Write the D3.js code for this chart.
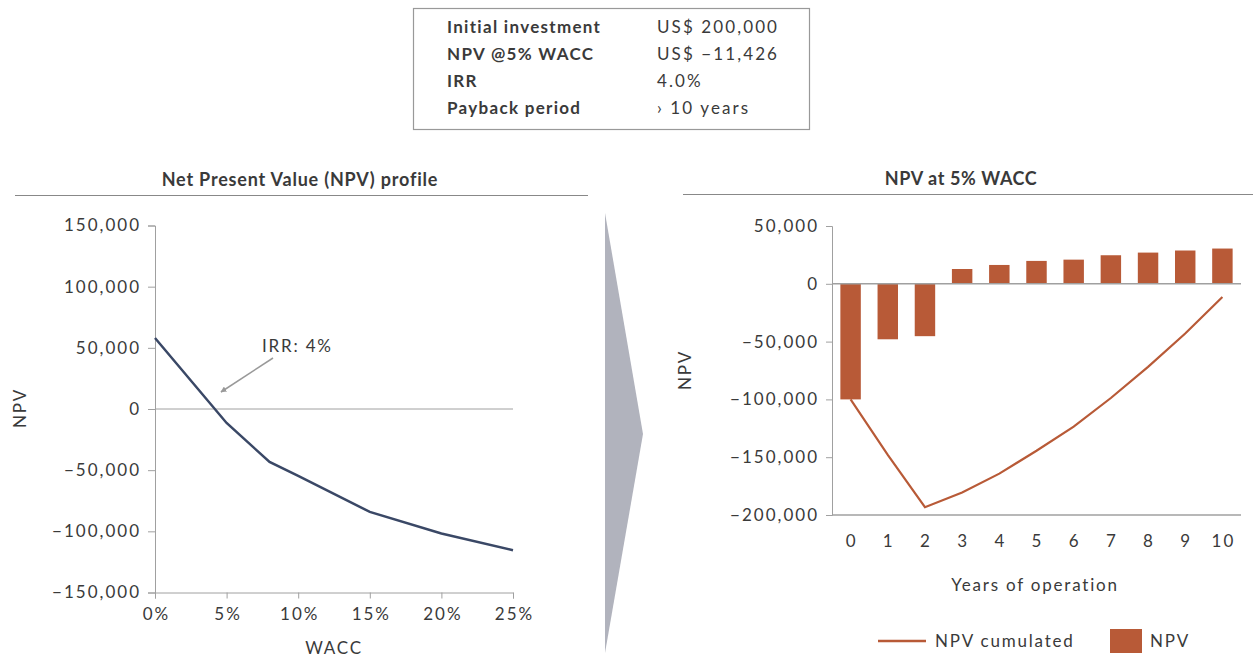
<!DOCTYPE html>
<html>
<head>
<meta charset="utf-8">
<script src="https://cdn.jsdelivr.net/npm/d3@7"></script>
<style>
  body { margin: 0; background: #fff; }
  svg text { font-family: Lato, "Noto Sans", sans-serif; fill: #3a3a3a; }
</style>
</head>
<body>
<script>
// summary box
var summaryLabels = ["Initial investment", "NPV @5% WACC", "IRR", "Payback period"];
var summaryValues = ["US$ 200,000", "US$ \u221211,426", "4.0%", "\u203a 10 years"];

// NPV profile
var waccRates = [0, 5, 8, 10, 15, 20, 25];
var npvProfile = [58000, -11426, -43300, -54700, -84100, -101800, -115400];
var profileTicks = [150000, 100000, 50000, 0, -50000, -100000, -150000];
var waccTicks = [0, 5, 10, 15, 20, 25];

// NPV at 5% WACC
var years = [0, 1, 2, 3, 4, 5, 6, 7, 8, 9, 10];
var npvYear = [-100000, -48000, -45300, 12800, 16300, 19800, 20900, 24700, 27000, 28800, 30500];
var npvCumulated = [-100000, -148000, -193300, -180500, -164200, -144400, -123500, -98800, -71800, -43000, -11426];
var yearTicks = [50000, 0, -50000, -100000, -150000, -200000];

var W = 1253, H = 657;
var orange = "#b85a37", navy = "#3a4866", grey = "#a0a0a0";
var fmt = function (d) { return d3.format(",")(d).replace("-", "\u2212"); };

var svg = d3.select("body").append("svg").attr("width", W).attr("height", H);

// small helper for the plain 17px labels
function label(x, y, s, anchor) {
  return svg.append("text").attr("x", x).attr("y", y).attr("text-anchor", anchor || "start")
    .attr("font-size", 17).attr("letter-spacing", 1.8).attr("fill", "#444").text(s);
}

// summary table
svg.append("rect").attr("x", 413.5).attr("y", 8.5).attr("width", 396).attr("height", 121)
  .attr("fill", "none").attr("stroke", "#999").attr("stroke-width", 1.2);
summaryLabels.forEach(function (s, i) {
  svg.append("text").attr("x", 447).attr("y", 33 + i * 27).attr("font-size", 17)
    .attr("font-weight", "bold").attr("letter-spacing", 1.3).text(s);
  svg.append("text").attr("x", 657).attr("y", 33 + i * 27).attr("font-size", 17)
    .attr("letter-spacing", 2.1).attr("fill", "#444").text(summaryValues[i]);
});

// titles
svg.append("text").attr("x", 300).attr("y", 185.5).attr("text-anchor", "middle")
  .attr("font-size", 18).attr("font-weight", "bold").attr("letter-spacing", 0.8).text("Net Present Value (NPV) profile");
svg.append("line").attr("x1", 15).attr("x2", 588).attr("y1", 195.5).attr("y2", 195.5).attr("stroke", "#888");
svg.append("text").attr("x", 961).attr("y", 184.5).attr("text-anchor", "middle")
  .attr("font-size", 18).attr("font-weight", "bold").attr("letter-spacing", 0.6).text("NPV at 5% WACC");
svg.append("line").attr("x1", 683).attr("x2", 1253).attr("y1", 194.5).attr("y2", 194.5).attr("stroke", "#888");

// chevron
svg.append("polygon").attr("points", "605,213 643,434 605,653").attr("fill", "#b1b3bd");

// ---------- left chart
var x1 = d3.scaleLinear().domain([0, 25]).range([155, 513]);
var y1 = d3.scaleLinear().domain([-150000, 150000]).range([592.5, 225.5]);

var ax1 = svg.append("g").attr("transform", "translate(155,0)")
  .call(d3.axisLeft(y1).tickValues(profileTicks).tickFormat(fmt).tickSize(7).tickPadding(7));
var bx1 = svg.append("g").attr("transform", "translate(0,592.5)")
  .call(d3.axisBottom(x1).tickValues(waccTicks).tickFormat(function (d) { return d + "%"; }).tickSize(6).tickPadding(9));
[ax1, bx1].forEach(function (a) {
  a.select(".domain").attr("stroke", grey);
  a.selectAll(".tick line").attr("stroke", grey);
  a.selectAll(".tick text").attr("font-size", 17).attr("fill", "#444").attr("letter-spacing", 2)
    .style("font-family", "Lato, sans-serif");
});
bx1.selectAll(".tick text").attr("dx", 1);
svg.append("line").attr("x1", 155).attr("x2", 513).attr("y1", y1(0)).attr("y2", y1(0)).attr("stroke", grey);

svg.append("path").datum(waccRates)
  .attr("fill", "none").attr("stroke", navy).attr("stroke-width", 2.5)
  .attr("d", d3.line().x(function (d) { return x1(d); }).y(function (d, i) { return y1(npvProfile[i]); }));

label(334, 654, "WACC", "middle");
svg.append("text").attr("transform", "translate(26,408) rotate(-90)").attr("text-anchor", "middle")
  .attr("font-size", 17).attr("letter-spacing", 1.8).attr("fill", "#444").text("NPV");

// IRR annotation
svg.append("defs").append("marker").attr("id", "ah").attr("viewBox", "0 0 10 10")
  .attr("refX", 9).attr("refY", 5).attr("markerWidth", 4).attr("markerHeight", 4).attr("orient", "auto")
  .append("path").attr("d", "M0,0 L10,5 L0,10 z").attr("fill", "#999");
svg.append("line").attr("x1", 273).attr("y1", 358).attr("x2", 221).attr("y2", 392)
  .attr("stroke", "#999").attr("stroke-width", 1.5).attr("marker-end", "url(#ah)");
label(262, 352, "IRR: 4%");

// ---------- right chart
var x2 = d3.scaleBand().domain(years).range([832, 1241]).paddingInner(0.45).paddingOuter(0.225);
var y2 = d3.scaleLinear().domain([-200000, 50000]).range([515, 226]);

var ax2 = svg.append("g").attr("transform", "translate(832,0)")
  .call(d3.axisLeft(y2).tickValues(yearTicks).tickFormat(fmt).tickSize(6).tickPadding(7));
ax2.select(".domain").attr("stroke", grey);
ax2.selectAll(".tick line").attr("stroke", grey);
ax2.selectAll(".tick text").attr("font-size", 17).attr("fill", "#444").attr("letter-spacing", 2)
  .style("font-family", "Lato, sans-serif");

svg.append("line").attr("x1", 832).attr("x2", 1241).attr("y1", y2(-200000)).attr("y2", y2(-200000)).attr("stroke", grey).attr("stroke-width", 1.5);

svg.selectAll(".bar").data(years).enter().append("rect").attr("class", "bar")
  .attr("x", function (d) { return x2(d); })
  .attr("width", x2.bandwidth())
  .attr("y", function (d, i) { return y2(Math.max(0, npvYear[i])); })
  .attr("height", function (d, i) { return Math.abs(y2(npvYear[i]) - y2(0)); })
  .attr("fill", orange);

svg.append("line").attr("x1", 832).attr("x2", 1241).attr("y1", y2(0)).attr("y2", y2(0)).attr("stroke", grey).attr("stroke-width", 1.5);

svg.append("path").datum(years)
  .attr("fill", "none").attr("stroke", orange).attr("stroke-width", 2.2)
  .attr("d", d3.line().x(function (d) { return x2(d) + x2.bandwidth() / 2; }).y(function (d, i) { return y2(npvCumulated[i]); }));

svg.selectAll(".yl").data(years).enter().append("text").attr("class", "yl")
  .attr("x", function (d) { return x2(d) + x2.bandwidth() / 2 + 1; }).attr("y", 547)
  .attr("text-anchor", "middle").attr("font-size", 17).attr("letter-spacing", 2).attr("fill", "#444")
  .text(function (d) { return d; });

label(1035, 591, "Years of operation", "middle");
svg.append("text").attr("transform", "translate(691,370) rotate(-90)").attr("text-anchor", "middle")
  .attr("font-size", 17).attr("letter-spacing", 1.8).attr("fill", "#444").text("NPV");

// legend
svg.append("line").attr("x1", 878).attr("x2", 926).attr("y1", 641).attr("y2", 641).attr("stroke", orange).attr("stroke-width", 2.5);
label(935, 647, "NPV cumulated");
svg.append("rect").attr("x", 1110).attr("y", 629).attr("width", 32).attr("height", 24).attr("fill", orange);
label(1150, 647, "NPV");
</script>
</body>
</html>
